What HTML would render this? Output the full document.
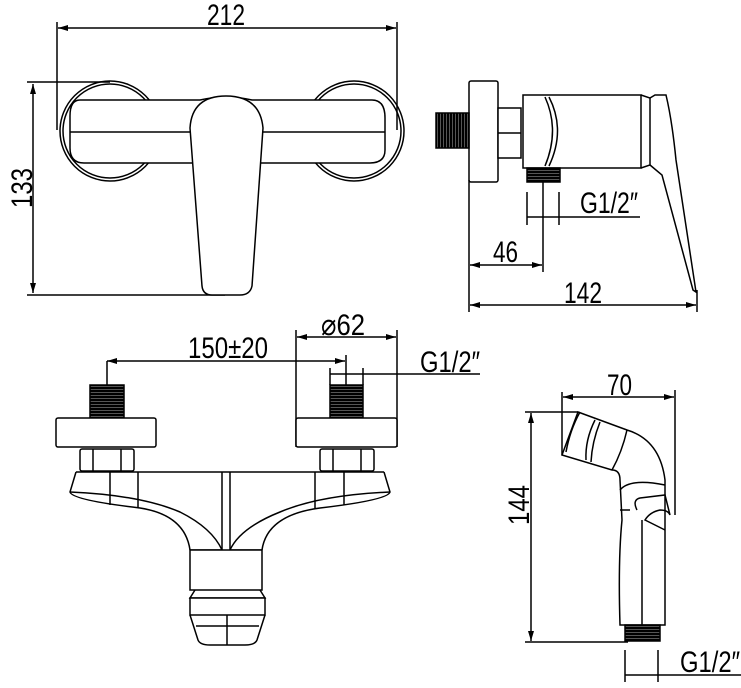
<!DOCTYPE html>
<html><head><meta charset="utf-8"><style>
html,body{margin:0;padding:0;background:#fff;}
svg{display:block;}
text{font-family:"Liberation Sans",sans-serif;fill:#000;}
</style></head><body>
<svg width="741" height="688" viewBox="0 0 741 688" xmlns="http://www.w3.org/2000/svg">
<defs>
<marker id="a" viewBox="0 0 10 6" refX="10" refY="3" markerWidth="10" markerHeight="6" orient="auto-start-reverse" markerUnits="userSpaceOnUse"><path d="M0,0 L10,3 L0,6 z" fill="#000"/></marker>
<pattern id="th" width="4" height="3" patternUnits="userSpaceOnUse"><rect width="4" height="3" fill="#555"/><rect width="4" height="2" fill="#000"/></pattern>
<pattern id="tv" width="3" height="4" patternUnits="userSpaceOnUse"><rect width="3" height="4" fill="#555"/><rect width="2" height="4" fill="#000"/></pattern>
</defs>
<g fill="none" stroke="#000" stroke-width="1.5">
<!-- TOP LEFT VIEW -->
<line x1="57" y1="22" x2="57" y2="130"/><line x1="397" y1="22" x2="397" y2="130"/>
<line x1="58" y1="28" x2="396" y2="28" marker-start="url(#a)" marker-end="url(#a)"/>
<line x1="27" y1="82" x2="110" y2="82"/><line x1="27" y1="295" x2="225" y2="295"/>
<line x1="33" y1="84" x2="33" y2="293" marker-start="url(#a)" marker-end="url(#a)"/>
<circle cx="110" cy="131" r="50"/><circle cx="110" cy="131" r="47"/>
<circle cx="354" cy="131" r="50"/><circle cx="354" cy="131" r="47"/>
<path d="M80,100 L200,100 Q226,94 252,100 L372,100 Q385,100 385,118 L385,150 Q385,163 370,163 L84,163 Q70,163 70,148 L70,116 Q70,100 80,100 Z" fill="#fff"/>
<line x1="70" y1="132" x2="385" y2="132"/>
<path d="M190,128 Q192,96 226,96 Q260,96 263,128 L252,286 Q250,295 240,295 L212,295 Q203,295 202,286 Z" fill="#fff"/>
<!-- SIDE VIEW -->
<rect x="469" y="81" width="29" height="101" rx="2" fill="#fff"/>
<rect x="436" y="113" width="33" height="35" fill="url(#tv)"/>
<rect x="498" y="108" width="23" height="50" fill="#fff"/><line x1="498" y1="133" x2="521" y2="133"/>
<rect x="523" y="95" width="118" height="73" fill="#fff"/>
<path d="M545,97 Q560,130 545,166"/><path d="M549,97 Q566,130 549,166"/>
<path d="M641,95 L650,98 L650,165 L641,168"/>
<path d="M650,98 L655,95 L666,95 Q672,120 676,160 L696,292 L693,290 L662,175 L650,165"/>
<rect x="527" y="168" width="33" height="14" fill="url(#th)"/>
<line x1="527" y1="192" x2="527" y2="225"/><line x1="559" y1="192" x2="559" y2="225"/>
<line x1="543" y1="180" x2="543" y2="272"/>
<line x1="527" y1="217" x2="640" y2="217"/>
<line x1="469" y1="180" x2="469" y2="312"/><line x1="697" y1="290" x2="697" y2="312"/>
<line x1="470" y1="265" x2="542" y2="265" marker-start="url(#a)" marker-end="url(#a)"/>
<line x1="470" y1="305" x2="696" y2="305" marker-start="url(#a)" marker-end="url(#a)"/>
<!-- FRONT VIEW -->
<line x1="296" y1="330" x2="296" y2="447"/><line x1="397" y1="330" x2="397" y2="447"/>
<line x1="297" y1="337" x2="396" y2="337" marker-start="url(#a)" marker-end="url(#a)"/>
<line x1="107" y1="361" x2="107" y2="385"/>
<line x1="107" y1="361" x2="345" y2="361" marker-start="url(#a)" marker-end="url(#a)"/>
<line x1="346" y1="355" x2="346" y2="385"/>
<line x1="330" y1="368" x2="330" y2="385"/><line x1="363" y1="368" x2="363" y2="385"/>
<line x1="330" y1="374" x2="480" y2="374"/>
<rect x="90" y="385" width="34" height="33" fill="url(#th)"/>
<rect x="330" y="385" width="33" height="33" fill="url(#th)"/>
<rect x="56" y="418" width="100" height="29" rx="2" fill="#fff"/>
<rect x="296" y="418" width="101" height="29" rx="2" fill="#fff"/>
<rect x="80" y="449" width="54" height="22" rx="2" fill="#fff"/><line x1="93" y1="449" x2="93" y2="471"/><line x1="121" y1="449" x2="121" y2="471"/>
<rect x="320" y="449" width="54" height="22" rx="2" fill="#fff"/><line x1="333" y1="449" x2="333" y2="471"/><line x1="361" y1="449" x2="361" y2="471"/>
<line x1="76" y1="472" x2="384" y2="472"/>
<path d="M76,472 L70,492 Q72,500 140,508 Q185,515 190,550"/>
<path d="M70,492 Q140,495 180,512 Q212,528 222,550"/>
<path d="M384,472 L390,492 Q388,500 320,508 Q267,515 262,550"/>
<path d="M390,492 Q320,495 280,512 Q240,528 230,550"/>
<line x1="110" y1="472" x2="110" y2="505"/><line x1="138" y1="472" x2="138" y2="508"/>
<line x1="315" y1="472" x2="315" y2="508"/><line x1="344" y1="472" x2="344" y2="505"/>
<line x1="222" y1="472" x2="222" y2="550"/><line x1="230" y1="472" x2="230" y2="550"/>
<line x1="190" y1="550" x2="222" y2="550"/><line x1="230" y1="550" x2="262" y2="550"/>
<rect x="190" y="550" width="72" height="40" fill="#fff"/>
<path d="M195,590 L190,598 L265,598 L260,590"/>
<rect x="190" y="598" width="75" height="17" fill="#fff"/>
<path d="M190,615 L198,640 Q200,645 210,645 L245,645 Q255,645 257,640 L265,615"/>
<line x1="196" y1="626" x2="259" y2="626"/><line x1="227" y1="615" x2="227" y2="645"/>
<!-- HAND SHOWER -->
<line x1="562" y1="392" x2="562" y2="455"/><line x1="675" y1="390" x2="675" y2="515"/>
<line x1="563" y1="397" x2="674" y2="397" marker-start="url(#a)" marker-end="url(#a)"/>
<line x1="525" y1="412" x2="578" y2="412"/><line x1="525" y1="642" x2="628" y2="642"/>
<line x1="531" y1="413" x2="531" y2="641" marker-start="url(#a)" marker-end="url(#a)"/>
<path d="M578,412 L627,430 Q660,440 665,480 L665,530 L665,625 L620,625 Q618,560 622,520 L620,480 Q620,470 612,470 L562,455 Z" fill="#fff"/>
<path d="M580,412 Q570,430 566,452"/><path d="M595,420 Q585,440 586,460"/><path d="M600,422 Q592,442 591,462"/>
<path d="M627,430 Q622,452 612,470"/>
<path d="M620,490 Q630,478 665,485"/><path d="M620,510 L630,510"/>
<path d="M637,510 Q632,500 640,498 L665,495 L670,515 Q668,510 660,510 Q650,512 645,520 L665,530"/>
<line x1="642" y1="520" x2="642" y2="625"/>
<rect x="625" y="625" width="35" height="16" fill="url(#th)"/>
<line x1="625" y1="650" x2="625" y2="682"/><line x1="658" y1="650" x2="658" y2="682"/>
<line x1="625" y1="675" x2="741" y2="675"/>
</g>
<g font-size="30">
<text x="226" y="25" text-anchor="middle" textLength="38" lengthAdjust="spacingAndGlyphs">212</text>
<text transform="translate(32,188) rotate(-90)" text-anchor="middle" textLength="40" lengthAdjust="spacingAndGlyphs">133</text>
<text x="580" y="213" textLength="58" lengthAdjust="spacingAndGlyphs">G1/2″</text>
<text x="493" y="262" textLength="25" lengthAdjust="spacingAndGlyphs">46</text>
<text x="564" y="303" textLength="38" lengthAdjust="spacingAndGlyphs">142</text>
<text x="321" y="335" textLength="44" lengthAdjust="spacingAndGlyphs">⌀62</text>
<text x="188" y="358" textLength="80" lengthAdjust="spacingAndGlyphs">150±20</text>
<text x="420" y="372" textLength="60" lengthAdjust="spacingAndGlyphs">G1/2″</text>
<text x="607" y="395" textLength="25" lengthAdjust="spacingAndGlyphs">70</text>
<text transform="translate(529,505) rotate(-90)" text-anchor="middle" textLength="40" lengthAdjust="spacingAndGlyphs">144</text>
<text x="680" y="672" textLength="60" lengthAdjust="spacingAndGlyphs">G1/2″</text>
</g>
</svg>
</body></html>
